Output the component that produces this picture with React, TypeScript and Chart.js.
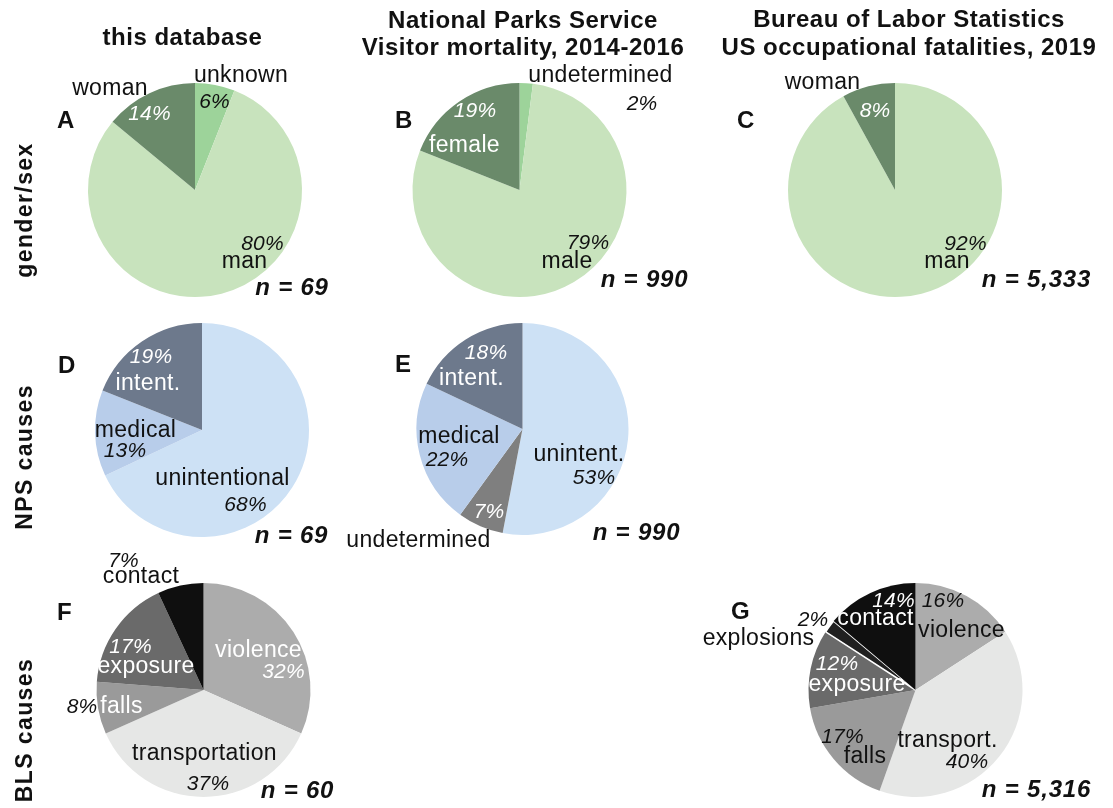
import { useEffect, useRef } from "react";
import Chart from "chart.js/auto";

const W = 1113;
const H = 808;
const FONT = '"Liberation Sans", Arial, Helvetica, sans-serif';

// ---------- DATA ----------
const dbGenderLabels = ["unknown", "man", "woman"];
const dbGenderValues = [6, 80, 14];

const npsGenderLabels = ["undetermined", "male", "female"];
const npsGenderValues = [2, 79, 19];

const blsGenderLabels = ["man", "woman"];
const blsGenderValues = [92, 8];

const dbNpsLabels = ["unintentional", "medical", "intent."];
const dbNpsValues = [68, 13, 19];

const npsNpsLabels = ["unintent.", "undetermined", "medical", "intent."];
const npsNpsValues = [53, 7, 22, 18];

const dbBlsLabels = ["violence", "transportation", "falls", "exposure", "contact"];
const dbBlsValues = [32, 37, 8, 17, 7];

const blsBlsLabels = ["violence", "transport.", "falls", "exposure", "explosions", "contact"];
const blsBlsValues = [16, 40, 17, 12, 2, 14];

const columnHeaders = [
  ["this database"],
  ["National Parks Service", "Visitor mortality, 2014-2016"],
  ["Bureau of Labor Statistics", "US occupational fatalities, 2019"],
];
const rowHeaders = ["gender/sex", "NPS causes", "BLS causes"];

// ---------- STYLE ----------
const GREEN = { light: "#c8e3bd", dark: "#6a8a6a", mid: "#9dd39a" };
const BLUE = { light: "#cde1f5", mid: "#b8cdea", dark: "#6d798c", grey: "#7f7f7f" };
const GREY = { violence: "#acacac", transport: "#e6e7e6", falls: "#9a9a9a", exposure: "#6a6a6a", contact: "#0f0f0f", explosions: "#202020" };
const BLACK = "#111111";
const WHITE = "#ffffff";

type Style = { font: string; spacing: number };
const ST: Record<string, Style> = {
  lab: { font: `23px ${FONT}`, spacing: 0.3 },
  pct: { font: `italic 21px ${FONT}`, spacing: 0.1 },
  n: { font: `italic bold 24px ${FONT}`, spacing: 0.8 },
  letter: { font: `bold 24px ${FONT}`, spacing: 0.5 },
  head: { font: `bold 24px ${FONT}`, spacing: 0.5 },
  row: { font: `bold 23px ${FONT}`, spacing: 1.4 },
};

type P = [number, number]; // offset from pie centre
type Panel = {
  letter: string;
  letterPos: P;
  labels: string[];
  values: number[];
  colors: string[];
  borders?: number[];
  cx: number;
  cy: number;
  r: number;
  labelPos: P[];
  labelColor: string[];
  pctPos: P[];
  pctColor: string[];
  n: string;
  nPos: P;
};

const panels: Panel[] = [
  {
    letter: "A", letterPos: [-138, -62],
    labels: dbGenderLabels, values: dbGenderValues,
    colors: [GREEN.mid, GREEN.light, GREEN.dark],
    cx: 195, cy: 190, r: 107,
    labelPos: [[46, -108], [49.5, 78], [-85, -95]],
    labelColor: [BLACK, BLACK, BLACK],
    pctPos: [[19.5, -82], [67.5, 60], [-45.5, -70]],
    pctColor: [BLACK, BLACK, WHITE],
    n: "n = 69", nPos: [97, 105],
  },
  {
    letter: "B", letterPos: [-124.5, -62],
    labels: npsGenderLabels, values: npsGenderValues,
    colors: [GREEN.mid, GREEN.light, GREEN.dark],
    cx: 519.5, cy: 190, r: 107,
    labelPos: [[81, -108], [47.5, 78], [-55, -38]],
    labelColor: [BLACK, BLACK, WHITE],
    pctPos: [[122.5, -80], [68.5, 59], [-44.5, -73]],
    pctColor: [BLACK, BLACK, WHITE],
    n: "n = 990", nPos: [125, 97],
  },
  {
    letter: "C", letterPos: [-158, -62],
    labels: blsGenderLabels, values: blsGenderValues,
    colors: [GREEN.light, GREEN.dark],
    cx: 895, cy: 190, r: 107,
    labelPos: [[52, 78], [-72.5, -101]],
    labelColor: [BLACK, BLACK],
    pctPos: [[70.5, 60], [-20, -73]],
    pctColor: [BLACK, WHITE],
    n: "n = 5,333", nPos: [141.5, 97],
  },
  {
    letter: "D", letterPos: [-144, -57],
    labels: dbNpsLabels, values: dbNpsValues,
    colors: [BLUE.light, BLUE.mid, BLUE.dark],
    cx: 202, cy: 430, r: 107,
    labelPos: [[20.5, 55], [-66.5, 7], [-54, -40]],
    labelColor: [BLACK, BLACK, WHITE],
    pctPos: [[43.5, 81], [-77, 27], [-51, -67]],
    pctColor: [BLACK, BLACK, WHITE],
    n: "n = 69", nPos: [89.5, 113],
  },
  {
    letter: "E", letterPos: [-127.5, -57],
    labels: npsNpsLabels, values: npsNpsValues,
    colors: [BLUE.light, BLUE.grey, BLUE.mid, BLUE.dark],
    cx: 522.5, cy: 429, r: 106,
    labelPos: [[56.5, 32], [-104, 118], [-63.5, 14], [-51, -44]],
    labelColor: [BLACK, BLACK, BLACK, WHITE],
    pctPos: [[71.5, 55], [-33.5, 89], [-75.5, 37], [-36.5, -70]],
    pctColor: [BLACK, WHITE, BLACK, WHITE],
    n: "n = 990", nPos: [114, 111],
  },
  {
    letter: "F", letterPos: [-146.5, -70],
    labels: dbBlsLabels, values: dbBlsValues,
    colors: [GREY.violence, GREY.transport, GREY.falls, GREY.exposure, GREY.contact],
    cx: 203.5, cy: 690, r: 107,
    labelPos: [[55, -33], [1, 70], [-82, 23], [-57.5, -17], [-62.5, -107]],
    labelColor: [WHITE, BLACK, WHITE, WHITE, BLACK],
    pctPos: [[80, -12], [4.5, 100], [-121.5, 23], [-73, -37], [-80, -123]],
    pctColor: [WHITE, BLACK, BLACK, WHITE, BLACK],
    n: "n = 60", nPos: [94, 108],
  },
  {
    letter: "G", letterPos: [-184.5, -71],
    labels: blsBlsLabels, values: blsBlsValues,
    colors: [GREY.violence, GREY.transport, GREY.falls, GREY.exposure, GREY.explosions, GREY.contact],
    borders: [0, 0, 0, 0, 1.5, 0],
    cx: 915.5, cy: 690, r: 107,
    labelPos: [[46, -53], [32, 57], [-50.5, 73], [-58.5, 1], [-157, -45], [-40, -65]],
    labelColor: [BLACK, BLACK, BLACK, WHITE, BLACK, WHITE],
    pctPos: [[27.5, -83], [51.5, 78], [-73, 53], [-78.5, -20], [-102.5, -64], [-22, -83]],
    pctColor: [BLACK, BLACK, BLACK, WHITE, BLACK, WHITE],
    n: "n = 5,316", nPos: [121, 107],
  },
];

// header / row label placement (page coordinates)
const headerPos: { x: number; y: number[] }[] = [
  { x: 182.5, y: [45] },
  { x: 523, y: [28, 55] },
  { x: 909, y: [27, 55] },
];
const rowPos: { x: number; y: number }[] = [
  { x: 32, y: 210 },
  { x: 32, y: 457 },
  { x: 32, y: 730 },
];

function drawText(
  ctx: CanvasRenderingContext2D,
  text: string,
  x: number,
  y: number,
  style: Style,
  color: string,
  align: CanvasTextAlign = "center",
  rot = 0
) {
  ctx.save();
  ctx.font = style.font;
  (ctx as any).letterSpacing = `${style.spacing}px`;
  ctx.fillStyle = color;
  ctx.textAlign = align;
  ctx.textBaseline = "alphabetic";
  ctx.translate(x, y);
  if (rot) ctx.rotate(rot);
  ctx.fillText(text, 0, 0);
  ctx.restore();
}

function panelTextPlugin(p: Panel, withGlobal: boolean) {
  return {
    id: "panelText" + p.letter,
    afterDraw(chart: any) {
      const ctx: CanvasRenderingContext2D = chart.ctx;
      const arc = chart.getDatasetMeta(0).data[0];
      const x0 = arc.x;
      const y0 = arc.y;
      p.labels.forEach((lab, i) => {
        const lp = p.labelPos[i];
        drawText(ctx, lab, x0 + lp[0], y0 + lp[1], ST.lab, p.labelColor[i]);
        const pp = p.pctPos[i];
        drawText(ctx, `${p.values[i]}%`, x0 + pp[0], y0 + pp[1], ST.pct, p.pctColor[i]);
      });
      drawText(ctx, p.n, x0 + p.nPos[0], y0 + p.nPos[1], ST.n, BLACK);
      drawText(ctx, p.letter, x0 + p.letterPos[0], y0 + p.letterPos[1], ST.letter, BLACK, "left");
      if (withGlobal) {
        columnHeaders.forEach((lines, c) => {
          lines.forEach((line, k) => {
            drawText(ctx, line, headerPos[c].x, headerPos[c].y[k], ST.head, BLACK);
          });
        });
        rowHeaders.forEach((t, rI) => {
          drawText(ctx, t, rowPos[rI].x, rowPos[rI].y, ST.row, BLACK, "center", -Math.PI / 2);
        });
      }
    },
  };
}

function PiePanel({ panel, withGlobal }: { panel: Panel; withGlobal: boolean }) {
  const ref = useRef<HTMLCanvasElement>(null);
  useEffect(() => {
    const S = panel.r + 4;
    const chart = new Chart(ref.current!, {
      type: "pie",
      data: {
        labels: panel.labels,
        datasets: [
          {
            data: panel.values,
            backgroundColor: panel.colors,
            borderColor: "#ffffff",
            borderWidth: panel.borders ?? 0,
            radius: panel.r,
          } as any,
        ],
      },
      options: {
        responsive: false,
        animation: false,
        devicePixelRatio: 1,
        events: [],
        layout: {
          padding: {
            left: panel.cx - S,
            right: W - panel.cx - S,
            top: panel.cy - S,
            bottom: H - panel.cy - S,
          },
        },
        plugins: {
          legend: { display: false },
          tooltip: { enabled: false },
        },
      },
      plugins: [panelTextPlugin(panel, withGlobal)],
    });
    return () => chart.destroy();
  }, [panel, withGlobal]);
  return (
    <canvas
      ref={ref}
      width={W}
      height={H}
      style={{ position: "absolute", left: 0, top: 0, width: W, height: H }}
    />
  );
}

export default function App() {
  return (
    <div style={{ position: "absolute", left: 0, top: 0, width: W, height: H, background: "#ffffff" }}>
      {panels.map((p, i) => (
        <PiePanel key={p.letter} panel={p} withGlobal={i === 0} />
      ))}
    </div>
  );
}
